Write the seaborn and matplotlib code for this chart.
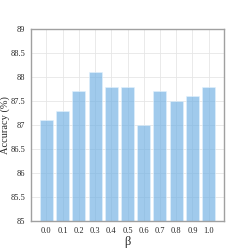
import numpy as np
import pandas as pd
import matplotlib
matplotlib.use('Agg')
import matplotlib.pyplot as plt
import seaborn as sns

# data
betas = ['0.0', '0.1', '0.2', '0.3', '0.4', '0.5', '0.6', '0.7', '0.8', '0.9', '1.0']
accuracy = [87.1, 87.3, 87.7, 88.1, 87.8, 87.8, 87.0, 87.7, 87.5, 87.6, 87.8]
yticks = [85, 85.5, 86, 86.5, 87, 87.5, 88, 88.5, 89]
ytick_labels = ['85', '85.5', '86', '86.5', '87', '87.5', '88', '88.5', '89']

df = pd.DataFrame({'beta': betas, 'acc': accuracy})

sns.set_style('white')
plt.rcParams['font.family'] = ['Liberation Serif', 'DejaVu Serif']

fig = plt.figure(figsize=(2.49, 2.49), dpi=100)
ax = fig.add_axes([0.1245, 0.1124, 0.7751, 0.7711])

sns.barplot(data=df, x='beta', y='acc', color='#5AB0F6', alpha=0.65,
            width=0.8, edgecolor='#E3F2FD', linewidth=0.6, ax=ax, zorder=2)

ax.set_ylim(85, 89)
ax.set_xlim(-0.94, 10.94)
ax.set_yticks(yticks)
ax.set_yticklabels(ytick_labels)
ax.grid(True, color='#e6e6e6', linewidth=0.6, zorder=0)
ax.set_axisbelow(True)
for s in ax.spines.values():
    s.set_color('#a0a0a0')
    s.set_linewidth(1.0)
ax.tick_params(axis='both', labelsize=6, length=2.5, width=0.6, color='#555555', pad=1.5)
ax.set_xlabel('β', fontsize=9, labelpad=1)
ax.set_ylabel('Accuracy (%)', fontsize=7.5)
ax.yaxis.set_label_coords(-0.108, 0.5)

plt.savefig('out.png', dpi=100)
